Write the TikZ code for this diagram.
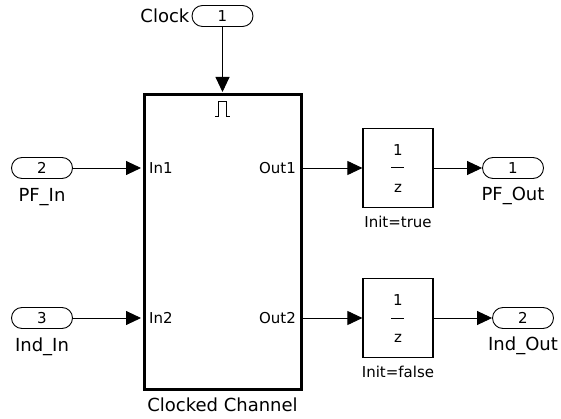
\documentclass[tikz,border=0pt]{standalone}
\usepackage{fontspec}
\setmainfont{DejaVu Sans}
\usetikzlibrary{positioning,arrows.meta}
\tikzset{
    port/.style={draw, line width=0.9pt, rounded corners=10.5pt, minimum width=61pt, minimum height=21pt, inner sep=0pt, font=\fontsize{15}{16}\selectfont},
    chan/.style={draw, line width=3pt, minimum width=157pt, minimum height=294pt, inner sep=0pt},
    delay/.style={draw, line width=1.2pt, minimum width=70pt, minimum height=79pt, inner sep=0pt},
    bname/.style={font=\fontsize{18}{20}\selectfont, inner sep=1pt},
    pname/.style={font=\fontsize{15}{16}\selectfont, inner sep=1pt},
    sig/.style={line width=0.9pt, -{Triangle[length=15pt, width=14pt]}}
}
\begin{document}
\begin{tikzpicture}[x=1pt, y=-1pt]
    \useasboundingbox (0,0) rectangle (561,419);

    \node[chan] (chan) at (222.5,242) {};
    \node[bname, below=6pt of chan] (channame) {Clocked Channel};

    \node[port] (clk) at (222.5,16) {1};
    \node[bname, left=1pt of clk] (clkname) {Clock};

    \node[port] (pfin) at (42,168) {2};
    \node[bname, below=8pt of pfin] (pfinname) {PF\_In};
    \node[port] (indin) at (42,318) {3};
    \node[bname, below=8pt of indin] (indinname) {Ind\_In};

    \node[pname, anchor=west] (in1) at (148,168) {In1};
    \node[pname, anchor=west] (in2) at (148,318) {In2};
    \node[pname, anchor=east] (out1) at (297,168) {Out1};
    \node[pname, anchor=east] (out2) at (297,318) {Out2};

    \node[delay] (d1) at (398,168) {};
    \node[pname] (d1num) at (398,150) {1};
    \node[pname] (d1den) at (398,188) {z};
    \node[pname, below=7pt of d1] (d1name) {Init=true};
    \node[delay] (d2) at (398,318) {};
    \node[pname] (d2num) at (398,300) {1};
    \node[pname] (d2den) at (398,338) {z};
    \node[pname, below=7pt of d2] (d2name) {Init=false};

    \node[port] (pfout) at (513,168) {1};
    \node[bname, below=7pt of pfout] (pfoutname) {PF\_Out};
    \node[port] (indout) at (523,318) {2};
    \node[bname, below=7pt of indout] (indoutname) {Ind\_Out};

    \draw[line width=1pt] (391,168) -- (404,168);
    \draw[line width=1pt] (391,318) -- (404,318);
    \draw[line width=1pt] (215,117) -- (218.5,117) -- (218.5,102) -- (226.5,102) -- (226.5,117) -- (230,117);

    \draw[sig, shorten >=1.5pt] (clk) -- (chan.north);
    \draw[sig, shorten >=1.5pt] (pfin) -- (pfin -| chan.west);
    \draw[sig, shorten >=1.5pt] (indin) -- (indin -| chan.west);
    \draw[sig] (d1.west -| chan.east) -- (d1);
    \draw[sig] (d2.west -| chan.east) -- (d2);
    \draw[sig] (d1) -- (pfout);
    \draw[sig] (d2) -- (indout);

\end{tikzpicture}
\end{document}
